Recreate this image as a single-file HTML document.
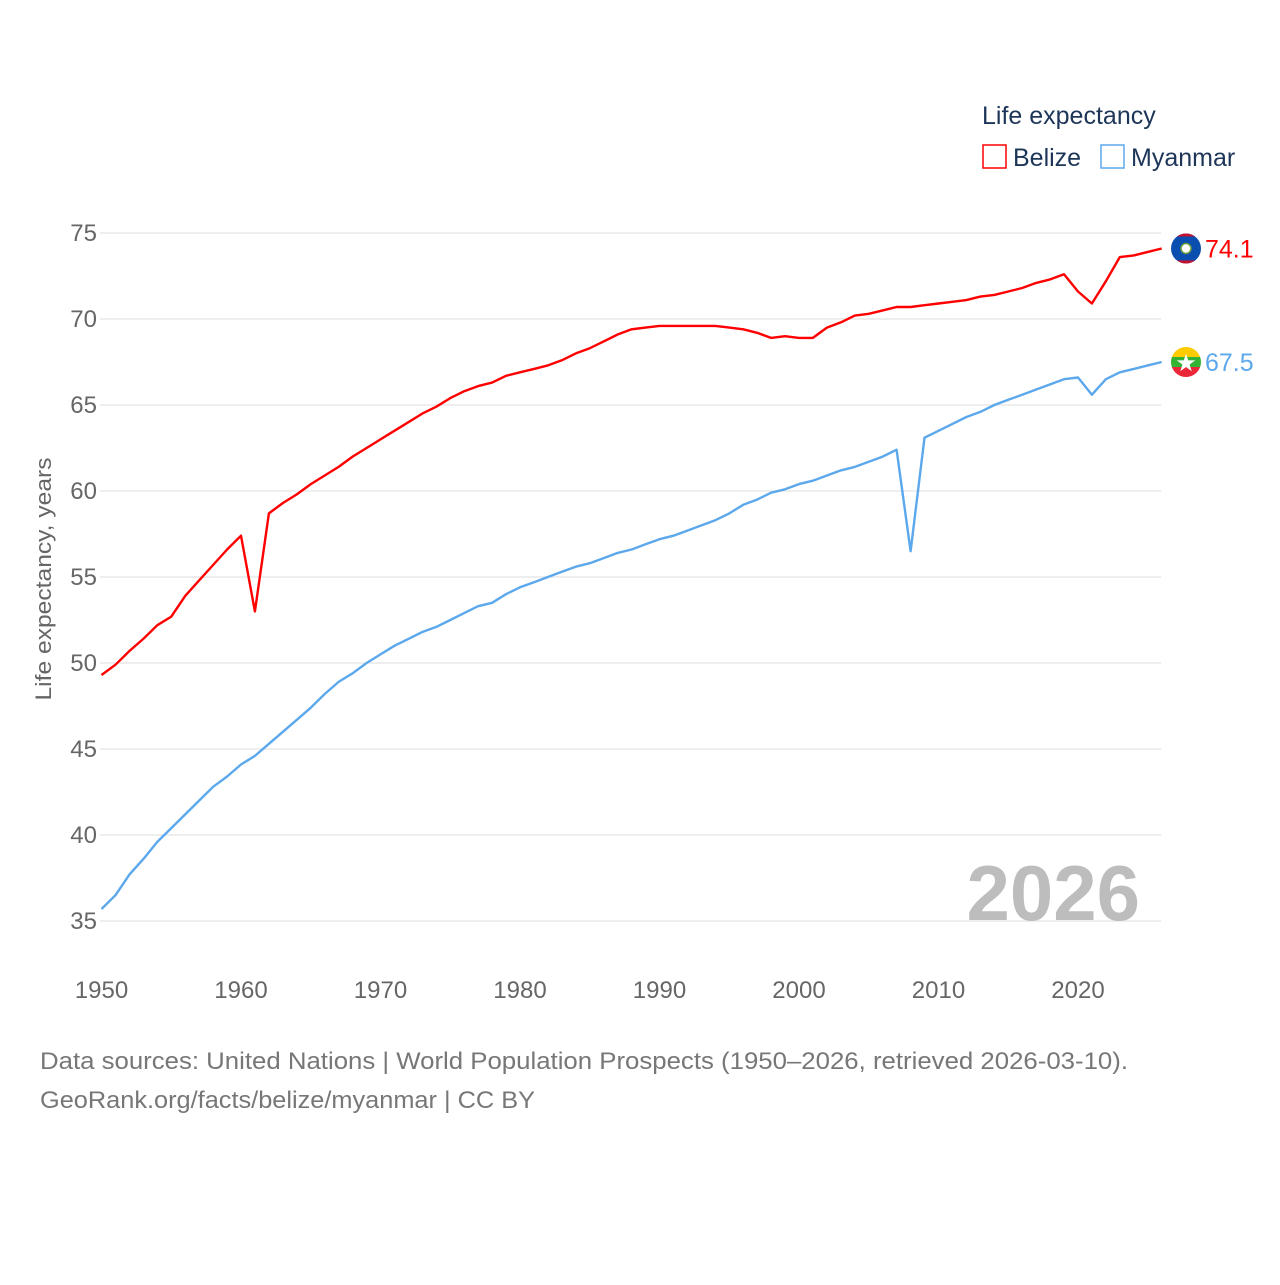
<!DOCTYPE html>
<html><head><meta charset="utf-8"><style>
body{margin:0;background:#fff;width:1280px;height:1280px;overflow:hidden;font-family:"Liberation Sans",sans-serif}
svg text{font-family:"Liberation Sans",sans-serif}
</style></head><body>
<svg id="chart" width="1280" height="1280">
<defs><clipPath id="bc"><circle id="bcc" cx="1186" cy="248" r="15"/></clipPath><clipPath id="mc"><circle id="mcc" cx="1186" cy="362" r="15"/></clipPath></defs>
<g id="grid"></g><g id="series"></g>
<text x="1140" y="920" text-anchor="end" font-size="78" font-weight="bold" fill="#bdbdbd">2026</text>
<text transform="translate(51,579) rotate(-90)" text-anchor="middle" font-size="22" fill="#666" textLength="243" lengthAdjust="spacingAndGlyphs">Life expectancy, years</text>
<text x="982" y="124" font-size="25" fill="#1d3557">Life expectancy</text>
<g><rect x="983" y="145" width="23" height="23" fill="none" stroke="#f00" stroke-width="1.5"/><text x="1013" y="166" font-size="25" fill="#1d3557">Belize</text></g>
<g><rect x="1101" y="145" width="23" height="23" fill="none" stroke="#5ca8ec" stroke-width="1.5"/><text x="1131" y="166" font-size="25" fill="#1d3557">Myanmar</text></g>
<text x="40" y="1069" font-size="24" fill="#777" textLength="1088" lengthAdjust="spacingAndGlyphs">Data sources: United Nations | World Population Prospects (1950–2026, retrieved 2026-03-10).</text>
<text x="40" y="1108" font-size="24" fill="#777" textLength="495" lengthAdjust="spacingAndGlyphs">GeoRank.org/facts/belize/myanmar | CC BY</text>
</svg>
<script>
const years=[];for(let y=1950;y<=2026;y++)years.push(y);
const belize=[49.3,49.9,50.7,51.4,52.2,52.7,53.9,54.8,55.7,56.6,57.4,53.0,58.7,59.3,59.8,60.4,60.9,61.4,62.0,62.5,63.0,63.5,64.0,64.5,64.9,65.4,65.8,66.1,66.3,66.7,66.9,67.1,67.3,67.6,68.0,68.3,68.7,69.1,69.4,69.5,69.6,69.6,69.6,69.6,69.6,69.5,69.4,69.2,68.9,69.0,68.9,68.9,69.5,69.8,70.2,70.3,70.5,70.7,70.7,70.8,70.9,71.0,71.1,71.3,71.4,71.6,71.8,72.1,72.3,72.6,71.6,70.9,72.2,73.6,73.7,73.9,74.1];
const myanmar=[35.7,36.5,37.7,38.6,39.6,40.4,41.2,42.0,42.8,43.4,44.1,44.6,45.3,46.0,46.7,47.4,48.2,48.9,49.4,50.0,50.5,51.0,51.4,51.8,52.1,52.5,52.9,53.3,53.5,54.0,54.4,54.7,55.0,55.3,55.6,55.8,56.1,56.4,56.6,56.9,57.2,57.4,57.7,58.0,58.3,58.7,59.2,59.5,59.9,60.1,60.4,60.6,60.9,61.2,61.4,61.7,62.0,62.4,56.5,63.1,63.5,63.9,64.3,64.6,65.0,65.3,65.6,65.9,66.2,66.5,66.6,65.6,66.5,66.9,67.1,67.3,67.5];
const yTicks=[35,40,45,50,55,60,65,70,75];
const xTicks=[1950,1960,1970,1980,1990,2000,2010,2020];
const NS="http://www.w3.org/2000/svg";
const xs=v=>101.5+(v-1950)*13.95;
const ys=v=>233+(75-v)*17.2;
const grid=document.getElementById('grid'),ser=document.getElementById('series');
function mk(tag,at,parent){const e=document.createElementNS(NS,tag);for(const k in at)e.setAttribute(k,at[k]);parent.appendChild(e);return e;}
yTicks.forEach(t=>{
 const l=mk('line',{x1:100,x2:1161,y1:ys(t),y2:ys(t),stroke:'#e8e8e8','stroke-width':1.5},grid);
 
 
 const tx=mk('text',{x:97,y:ys(t)+8,'text-anchor':'end','font-size':24,fill:'#666'},grid);tx.textContent=t;
 
 
});
xTicks.forEach(t=>{
 const tx=mk('text',{x:xs(t),y:998,'text-anchor':'middle','font-size':24,fill:'#666'},grid);tx.textContent=t;
 
 
});
function line(vals,color,name){
 const d=vals.map((v,i)=>(i?'L':'M')+xs(years[i]).toFixed(1)+','+ys(v).toFixed(1)).join('');
 const p=mk('path',{d:d,fill:'none',stroke:color,'stroke-width':2.4,'stroke-linejoin':'round'},ser);
 
 
 const last=vals[vals.length-1];
 const tx=mk('text',{x:1205,y:ys(last)+9,'font-size':25,fill:color},ser);tx.textContent=last.toFixed(1);
 
 
 return ys(last);
}
const by=line(belize,'#ff0000','belize');
const my=line(myanmar,'#5ca8ec','myanmar');
document.getElementById('bcc').setAttribute('cy',by);
document.getElementById('mcc').setAttribute('cy',my);
let g=mk('g',{'clip-path':'url(#bc)'},ser);


mk('rect',{x:1171,y:by-15,width:30,height:30,fill:'#0a4fb0'},g);
mk('rect',{x:1171,y:by-15,width:30,height:3,fill:'#c8102e'},g);
mk('rect',{x:1171,y:by+12,width:30,height:3,fill:'#c8102e'},g);
mk('circle',{cx:1186,cy:by,r:5,fill:'#fff',stroke:'#6a9a3a','stroke-width':1.5},g);
g=mk('g',{'clip-path':'url(#mc)'},ser);


mk('rect',{x:1171,y:my-15,width:30,height:10,fill:'#fecb00'},g);
mk('rect',{x:1171,y:my-5,width:30,height:10,fill:'#34b233'},g);
mk('rect',{x:1171,y:my+5,width:30,height:10,fill:'#ea2839'},g);
const st=mk('text',{x:1186,y:my+9,'text-anchor':'middle','font-size':24,fill:'#fff'},g);st.textContent='★';
</script>
</body></html>
